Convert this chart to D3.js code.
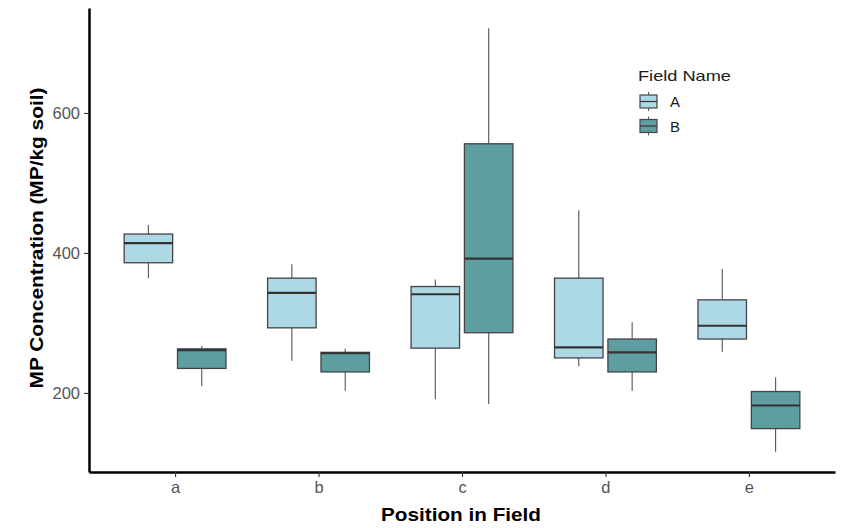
<!DOCTYPE html>
<html>
<head>
<meta charset="utf-8">
<script src="https://cdn.jsdelivr.net/npm/d3@7"></script>
<style>
  body { margin: 0; background: #fff; }
  svg { font-family: "Liberation Sans", Arial, sans-serif; }
</style>
</head>
<body>
<div id="canvas"></div>
<script>
// positions in field and the two fields
const categories = ["a", "b", "c", "d", "e"];
const fields = ["A", "B"];
const yTicks = [200, 400, 600];

// five-number summaries: [min, q1, median, q3, max]
const fieldA = [
  [364, 386, 414, 427, 440],
  [246, 293, 343, 364, 384],
  [191, 264, 341, 352, 362],
  [238, 250, 265, 364, 461],
  [259, 277, 296, 333, 377]
];
const fieldB = [
  [210, 235, 261, 263, 267],
  [203, 230, 257, 258, 263],
  [184, 286, 392, 556, 721],
  [203, 230, 258, 277, 301],
  [116, 149, 182, 202, 222]
];

const colors = { A: "#add8e6", B: "#5f9ea0" };

const width = 846;
const height = 528;

const svg = d3.select("#canvas").append("svg")
  .attr("width", width)
  .attr("height", height);

const x = d3.scalePoint().domain(categories).range([89, 835]).padding(0.6);
const y = d3.scaleLinear().domain([87, 750]).range([472, 8]);

const step = x.step();
const boxW = step * 0.338;
const offset = { A: -step * 0.186, B: step * 0.186 };

const rows = [];
categories.forEach((c, i) => {
  rows.push({ cat: c, field: "A", s: fieldA[i] });
  rows.push({ cat: c, field: "B", s: fieldB[i] });
});

const boxes = svg.append("g").selectAll("g.box").data(rows).enter()
  .append("g")
  .attr("class", "box")
  .attr("transform", (d) => `translate(${x(d.cat) + offset[d.field]},0)`);

// whiskers
boxes.append("line")
  .attr("x1", 0).attr("x2", 0)
  .attr("y1", (d) => y(d.s[3])).attr("y2", (d) => y(d.s[4]))
  .attr("stroke", "#555").attr("stroke-width", 1.1);
boxes.append("line")
  .attr("x1", 0).attr("x2", 0)
  .attr("y1", (d) => y(d.s[0])).attr("y2", (d) => y(d.s[1]))
  .attr("stroke", "#555").attr("stroke-width", 1.1);

boxes.append("rect")
  .attr("x", -boxW / 2)
  .attr("width", boxW)
  .attr("y", (d) => y(d.s[3]))
  .attr("height", (d) => y(d.s[1]) - y(d.s[3]))
  .attr("fill", (d) => colors[d.field])
  .attr("stroke", "#444")
  .attr("stroke-width", 1.3);

boxes.append("line")
  .attr("x1", -boxW / 2).attr("x2", boxW / 2)
  .attr("y1", (d) => y(d.s[2])).attr("y2", (d) => y(d.s[2]))
  .attr("stroke", "#333").attr("stroke-width", 2.2);

// axes
const yAxis = svg.append("g")
  .attr("transform", "translate(89,0)")
  .call(d3.axisLeft(y).tickValues(yTicks).tickSize(5).tickSizeOuter(0).tickPadding(4));

const xAxis = svg.append("g")
  .attr("transform", "translate(0,472)")
  .call(d3.axisBottom(x).tickSize(5).tickSizeOuter(0).tickPadding(4));

[xAxis, yAxis].forEach((a) => {
  a.select(".domain").attr("stroke", "#000").attr("stroke-width", 2.5);
  a.selectAll(".tick line").attr("stroke", "#333").attr("stroke-width", 1.1);
  a.selectAll(".tick text")
    .attr("fill", "#555")
    .style("font-size", "16.5px")
    .style("font-family", "Liberation Sans, Arial, sans-serif");
});

svg.append("text")
  .attr("x", 461)
  .attr("y", 521)
  .attr("text-anchor", "middle")
  .style("font-size", "19px")
  .style("font-weight", "bold")
  .attr("textLength", 160)
  .attr("lengthAdjust", "spacingAndGlyphs")
  .text("Position in Field");

svg.append("text")
  .attr("transform", "translate(43,238) rotate(-90)")
  .attr("text-anchor", "middle")
  .style("font-size", "19px")
  .style("font-weight", "bold")
  .attr("textLength", 301)
  .attr("lengthAdjust", "spacingAndGlyphs")
  .text("MP Concentration (MP/kg soil)");

// legend
const legend = svg.append("g").attr("transform", "translate(638,0)");
legend.append("text")
  .attr("x", 0).attr("y", 81)
  .style("font-size", "15px")
  .attr("fill", "#1a1a1a")
  .attr("textLength", 93)
  .attr("lengthAdjust", "spacingAndGlyphs")
  .text("Field Name");

const keys = legend.selectAll("g.key").data(fields).enter()
  .append("g")
  .attr("class", "key")
  .attr("transform", (d, i) => `translate(2,${95 + i * 24.5})`);

keys.append("line")
  .attr("x1", 8.5).attr("x2", 8.5).attr("y1", -3).attr("y2", 16)
  .attr("stroke", "#555").attr("stroke-width", 1);
keys.append("rect")
  .attr("x", 0).attr("y", 0).attr("width", 17).attr("height", 13)
  .attr("fill", (d) => colors[d])
  .attr("stroke", "#444").attr("stroke-width", 1.2);
keys.append("line")
  .attr("x1", 0).attr("x2", 17).attr("y1", 6.5).attr("y2", 6.5)
  .attr("stroke", "#333").attr("stroke-width", 1.2);
keys.append("text")
  .attr("x", 30).attr("y", 12)
  .style("font-size", "15px")
  .attr("fill", "#1a1a1a")
  .text((d) => d);
</script>
</body>
</html>
